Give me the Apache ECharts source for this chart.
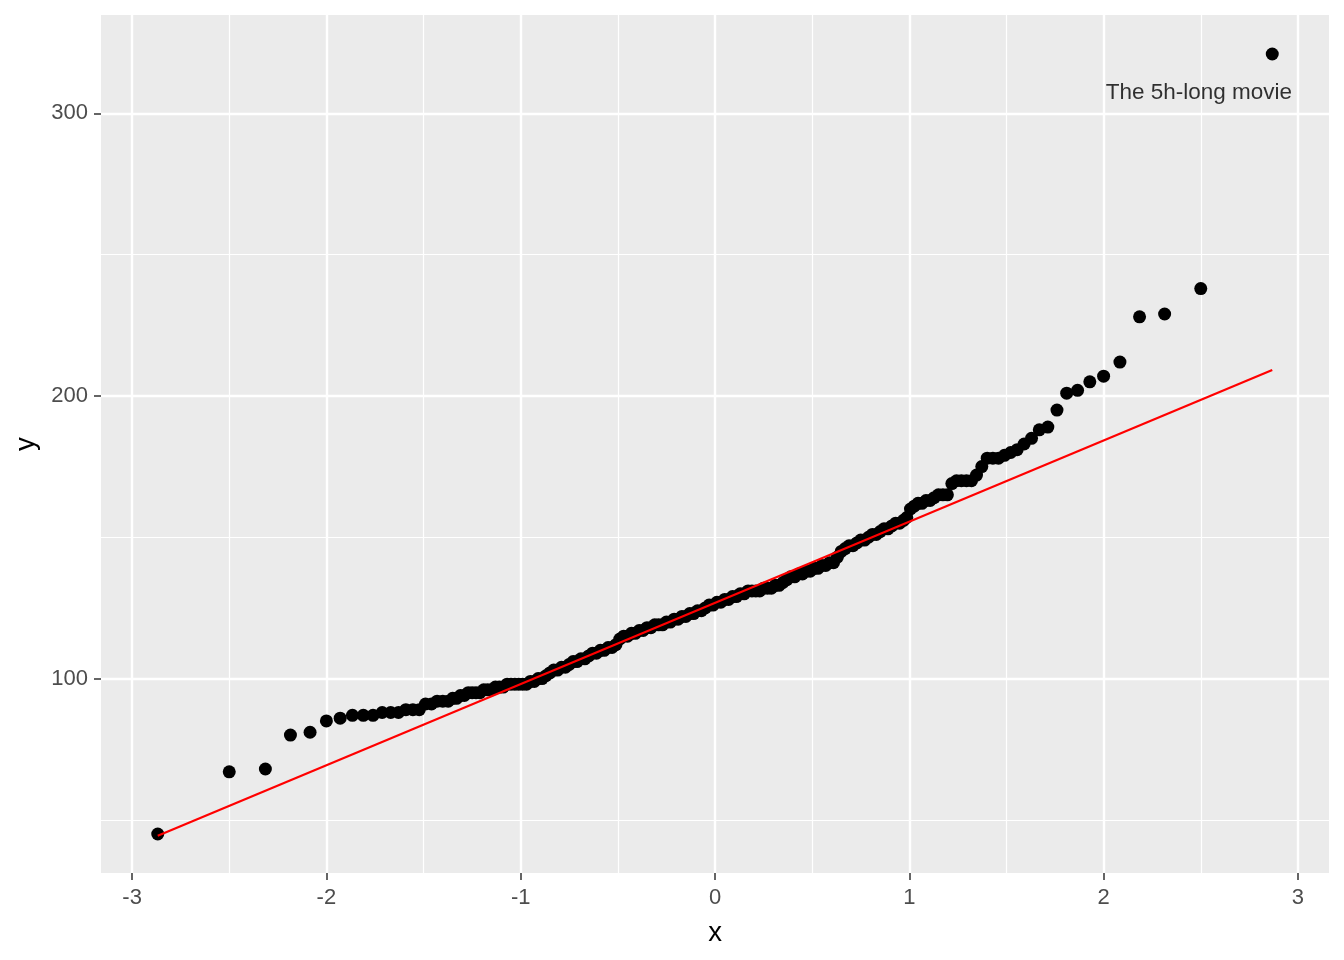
<!DOCTYPE html>
<html>
<head>
<meta charset="utf-8">
<script src="https://cdn.jsdelivr.net/npm/echarts@6/dist/echarts.min.js"></script>
<style>
html,body{margin:0;padding:0;background:#ffffff;}
#chart{width:1344px;height:960px;}
</style>
</head>
<body>
<div id="chart"></div>
<script>
// Theoretical normal quantiles (x)
const theoretical = [
  -2.868, -2.500, -2.314, -2.185, -2.084, -2.000, -1.929, -1.866, -1.810, -1.760,
  -1.713, -1.669, -1.629, -1.591, -1.555, -1.522, -1.490, -1.459, -1.430, -1.401,
  -1.373, -1.35, -1.33, -1.31, -1.29, -1.27, -1.25, -1.23, -1.21, -1.19,
  -1.17, -1.15, -1.13, -1.11, -1.09, -1.07, -1.05, -1.03, -1.01, -0.99,
  -0.97, -0.95, -0.93, -0.91, -0.89, -0.87, -0.85, -0.83, -0.81, -0.79,
  -0.77, -0.75, -0.73, -0.71, -0.69, -0.67, -0.65, -0.63, -0.61, -0.59,
  -0.57, -0.55, -0.53, -0.51, -0.49, -0.47, -0.45, -0.43, -0.41, -0.39,
  -0.37, -0.35, -0.33, -0.31, -0.29, -0.27, -0.25, -0.23, -0.21, -0.19,
  -0.17, -0.15, -0.13, -0.11, -0.09, -0.07, -0.05, -0.03, -0.01, 0.01,
  0.03, 0.05, 0.07, 0.09, 0.11, 0.13, 0.15, 0.17, 0.19, 0.21,
  0.23, 0.25, 0.27, 0.29, 0.31, 0.33, 0.35, 0.37, 0.39, 0.41,
  0.43, 0.45, 0.47, 0.49, 0.51, 0.53, 0.55, 0.57, 0.59, 0.61,
  0.63, 0.65, 0.67, 0.69, 0.71, 0.73, 0.75, 0.77, 0.79, 0.81,
  0.83, 0.85, 0.87, 0.89, 0.91, 0.93, 0.95, 0.97, 0.987, 1.006,
  1.025, 1.045, 1.065, 1.086, 1.107, 1.128, 1.150, 1.173, 1.196, 1.219,
  1.243, 1.268, 1.294, 1.320, 1.346, 1.373, 1.401, 1.430, 1.459, 1.490,
  1.522, 1.555, 1.591, 1.629, 1.669, 1.713, 1.760, 1.810, 1.866, 1.929,
  2.000, 2.084, 2.185, 2.314, 2.500, 2.868
];
// Sample values (y)
const sample = [
  45, 67, 68, 80, 81, 85, 86, 87, 87, 87,
  88, 88, 88, 89, 89, 89, 91, 91, 92, 92,
  92, 93, 93, 94, 94, 95, 95, 95, 95, 96,
  96, 96, 97, 97, 97, 98, 98, 98, 98, 98,
  98, 99, 99, 100, 100, 101, 102, 103, 103, 104,
  104, 105, 106, 106, 107, 107, 108, 109, 109, 110,
  110, 111, 111, 112, 114, 115, 115, 116, 116, 117,
  117, 118, 118, 119, 119, 119, 120, 120, 121, 121,
  122, 122, 123, 123, 124, 124, 125, 126, 126, 127,
  127, 128, 128, 129, 129, 130, 130, 131, 131, 131,
  131, 132, 132, 132, 133, 133, 134, 135, 136, 136,
  137, 137, 138, 138, 139, 139, 140, 140, 141, 141,
  143, 145, 146, 147, 147, 148, 149, 149, 150, 151,
  151, 152, 153, 153, 154, 155, 155, 156, 157, 160,
  161, 162, 162, 163, 163, 164, 165, 165, 165, 169,
  170, 170, 170, 170, 172, 175, 178, 178, 178, 179,
  180, 181, 183, 185, 188, 189, 195, 201, 202, 205,
  207, 212, 228, 229, 238, 321
];
// Reference line end points
const lineX = [-2.868, 2.868];
const lineY = [44.4, 209.2];
// Axis ticks
const xTicks = [-3, -2, -1, 0, 1, 2, 3];
const xMinorTicks = [-2.5, -1.5, -0.5, 0.5, 1.5, 2.5];
const yTicks = [100, 200, 300];
const yMinorTicks = [50, 150, 250];
// Annotation
const annoX = [2.49];
const annoY = [307.3];
const annoText = ['The 5h-long movie'];

const FONT = '"Liberation Sans", Arial, Helvetica, sans-serif';
const X_MIN = -3.16, X_MAX = 3.16, Y_MIN = 31.2, Y_MAX = 334.8;

const points = theoretical.map((x, i) => [x, sample[i]]);
const linePts = lineX.map((x, i) => [x, lineY[i]]);
const annoPts = annoX.map((x, i) => [x, annoY[i]]);

const chart = echarts.init(document.getElementById('chart'), null, {renderer: 'canvas'});
chart.setOption({
  animation: false,
  backgroundColor: '#ffffff',
  grid: {
    left: 101, right: 15, top: 15, bottom: 87,
    show: true, backgroundColor: '#EBEBEB', borderWidth: 0
  },
  xAxis: [
    {
      type: 'value', min: X_MIN, max: X_MAX, position: 'bottom',
      name: 'x', nameLocation: 'middle', nameGap: 46,
      nameTextStyle: {color: '#000000', fontSize: 27.5, fontFamily: FONT},
      axisLine: {show: false, onZero: false},
      axisTick: {show: true, length: 7, customValues: xTicks, lineStyle: {color: '#333333', width: 1.5}},
      axisLabel: {show: true, customValues: xTicks, color: '#4D4D4D', fontSize: 22, fontFamily: FONT, margin: 14},
      splitLine: {show: true, lineStyle: {color: '#FFFFFF', width: 2.4}},
      minorTick: {show: false}, minorSplitLine: {show: false}
    },
    {
      type: 'value', min: X_MIN, max: X_MAX, position: 'bottom',
      axisLine: {show: false, onZero: false},
      axisTick: {show: false, customValues: xMinorTicks},
      axisLabel: {show: false, customValues: xMinorTicks},
      splitLine: {show: true, lineStyle: {color: '#FFFFFF', width: 1.2}}
    }
  ],
  yAxis: [
    {
      type: 'value', min: Y_MIN, max: Y_MAX, position: 'left',
      name: 'y', nameLocation: 'middle', nameGap: 55,
      nameTextStyle: {color: '#000000', fontSize: 27.5, fontFamily: FONT},
      axisLine: {show: false, onZero: false},
      axisTick: {show: true, length: 7, customValues: yTicks, lineStyle: {color: '#333333', width: 1.5}},
      axisLabel: {show: true, customValues: yTicks, color: '#4D4D4D', fontSize: 22, fontFamily: FONT, margin: 13},
      splitLine: {show: true, lineStyle: {color: '#FFFFFF', width: 2.4}}
    },
    {
      type: 'value', min: Y_MIN, max: Y_MAX, position: 'left',
      axisLine: {show: false, onZero: false},
      axisTick: {show: false, customValues: yMinorTicks},
      axisLabel: {show: false, customValues: yMinorTicks},
      splitLine: {show: true, lineStyle: {color: '#FFFFFF', width: 1.2}}
    }
  ],
  series: [
    {
      type: 'scatter', xAxisIndex: 0, yAxisIndex: 0,
      data: points, symbol: 'circle', symbolSize: 13,
      itemStyle: {color: '#000000', opacity: 1}, z: 2, silent: true
    },
    {
      type: 'line', xAxisIndex: 0, yAxisIndex: 0,
      data: linePts, showSymbol: false, symbol: 'none',
      lineStyle: {color: '#FF0000', width: 2.2}, z: 3, silent: true
    },
    {
      type: 'scatter', xAxisIndex: 0, yAxisIndex: 0,
      data: annoPts, symbolSize: 0, z: 4, silent: true,
      label: {
        show: true, position: 'inside',
        formatter: (p) => annoText[p.dataIndex],
        color: '#000000', fontSize: 22.5, fontFamily: FONT
      }
    }
  ]
});
</script>
</body>
</html>
